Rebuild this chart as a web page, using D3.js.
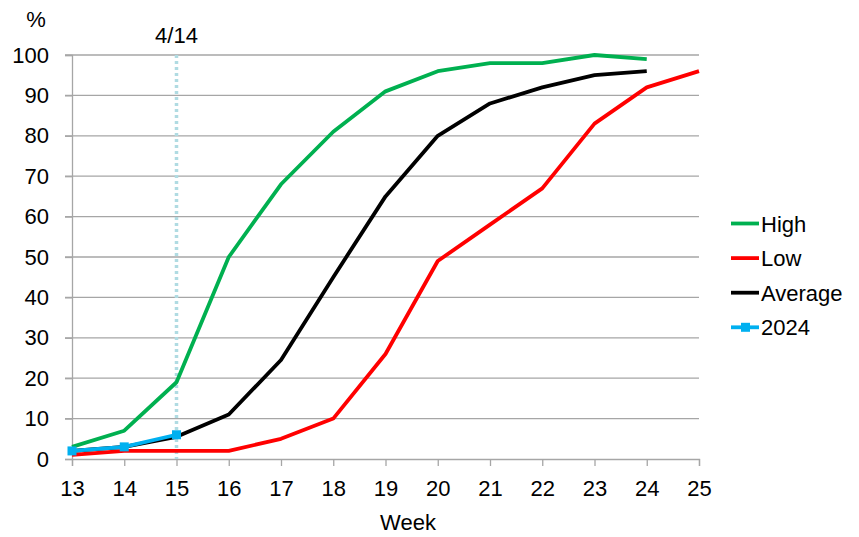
<!DOCTYPE html>
<html>
<head>
<meta charset="utf-8">
<script src="https://cdn.jsdelivr.net/npm/d3@7"></script>
<style>
  html, body { margin: 0; padding: 0; background: #fff; }
  svg { display: block; font-family: "Liberation Sans", Arial, sans-serif; }
</style>
</head>
<body>
<svg id="chart" width="859" height="537"></svg>
<script>
// Weekly progress (%), weeks 13–25
const weeks = [13, 14, 15, 16, 17, 18, 19, 20, 21, 22, 23, 24, 25];
const yTicks = [0, 10, 20, 30, 40, 50, 60, 70, 80, 90, 100];

const highValues    = [3, 7, 19, 50, 68, 81, 91, 96, 98, 98, 100, 99, null];
const lowValues     = [1, 2, 2, 2, 5, 10, 26, 49, 58, 67, 83, 92, 96];
const averageValues = [2, 3, 5.5, 11, 24.5, 45, 65, 80, 88, 92, 95, 96, null];
const values2024    = [2, 3, 6, null, null, null, null, null, null, null, null, null, null];

const markerWeek = 15;
const markerLabel = "4/14";

const seriesNames  = ["High", "Low", "Average", "2024"];
const seriesColors = ["#00b050", "#ff0000", "#000000", "#00b0f0"];

const series = [highValues, lowValues, averageValues, values2024].map((vals, i) => ({
  name: seriesNames[i],
  color: seriesColors[i],
  points: weeks.map((w, j) => ({ week: w, value: vals[j] })).filter(d => d.value != null)
}));

const svg = d3.select("#chart");
const plotLeft = 72, plotRight = 699, plotTop = 55, plotBottom = 459;

const x = d3.scaleLinear().domain([13, 25]).range([plotLeft, plotRight]);
const y = d3.scaleLinear().domain([0, 100]).range([plotBottom, plotTop]);

const fontSize = 22;
const fontFamily = "Liberation Sans, Arial, sans-serif";
const gridColor = "#a6a6a6";

// horizontal gridlines
svg.append("g")
  .selectAll("line")
  .data(yTicks.filter(t => t > 0))
  .join("line")
  .attr("x1", plotLeft - 7).attr("x2", plotRight)
  .attr("y1", d => y(d)).attr("y2", d => y(d))
  .attr("stroke", gridColor).attr("stroke-width", 1.3);

// y axis
const yAxis = svg.append("g")
  .attr("transform", `translate(${plotLeft},0)`)
  .call(d3.axisLeft(y).tickValues(yTicks).tickSize(7).tickPadding(16));
yAxis.select(".domain").attr("stroke", gridColor).attr("stroke-width", 1.3);
yAxis.selectAll(".tick line").attr("stroke", gridColor).attr("stroke-width", 1.3);
yAxis.selectAll("text").attr("font-size", fontSize).attr("fill", "#000")
  .attr("font-family", fontFamily);

// x axis
const xAxis = svg.append("g")
  .attr("transform", `translate(0,${plotBottom})`)
  .call(d3.axisBottom(x).tickValues(weeks).tickFormat(d3.format("d")).tickSize(7).tickPadding(14));
xAxis.select(".domain").attr("stroke", gridColor).attr("stroke-width", 1.3);
xAxis.selectAll(".tick line").attr("stroke", gridColor).attr("stroke-width", 1.3);
xAxis.selectAll("text").attr("font-size", fontSize).attr("fill", "#000")
  .attr("font-family", fontFamily);

// date marker
svg.append("line")
  .attr("x1", x(markerWeek)).attr("x2", x(markerWeek))
  .attr("y1", y(100)).attr("y2", plotBottom)
  .attr("stroke", "#b0dbe2").attr("stroke-width", 3.5)
  .attr("stroke-dasharray", "3,3");
svg.append("text")
  .attr("x", x(markerWeek)).attr("y", 43)
  .attr("text-anchor", "middle")
  .attr("font-size", fontSize)
  .text(markerLabel);

// series lines
const line = d3.line().x(d => x(d.week)).y(d => y(d.value));
svg.append("g")
  .selectAll("path")
  .data(series)
  .join("path")
  .attr("d", d => line(d.points))
  .attr("fill", "none")
  .attr("stroke", d => d.color)
  .attr("stroke-width", 3.8)
  .attr("stroke-linejoin", "round");

// markers on the 2024 series
const s2024 = series[3];
svg.append("g")
  .selectAll("rect")
  .data(s2024.points)
  .join("rect")
  .attr("x", d => x(d.week) - 4.5).attr("y", d => y(d.value) - 4.5)
  .attr("width", 9).attr("height", 9)
  .attr("fill", s2024.color);

// axis titles
svg.append("text")
  .attr("x", 36).attr("y", 27)
  .attr("text-anchor", "middle")
  .attr("font-size", fontSize)
  .text("%");
svg.append("text")
  .attr("x", 408).attr("y", 530)
  .attr("text-anchor", "middle")
  .attr("font-size", fontSize)
  .text("Week");

// legend
const legend = svg.append("g").attr("transform", "translate(731,223.5)");
const item = legend.selectAll("g")
  .data(series)
  .join("g")
  .attr("transform", (d, i) => `translate(0,${i * 34.6})`);
item.append("line")
  .attr("x1", 0).attr("x2", 28)
  .attr("stroke", d => d.color).attr("stroke-width", 3.8);
item.filter(d => d.name === "2024").append("rect")
  .attr("x", 10).attr("y", -4.5).attr("width", 9).attr("height", 9)
  .attr("fill", d => d.color);
item.append("text")
  .attr("x", 30).attr("y", 8)
  .attr("font-size", fontSize)
  .text(d => d.name);
</script>
</body>
</html>
